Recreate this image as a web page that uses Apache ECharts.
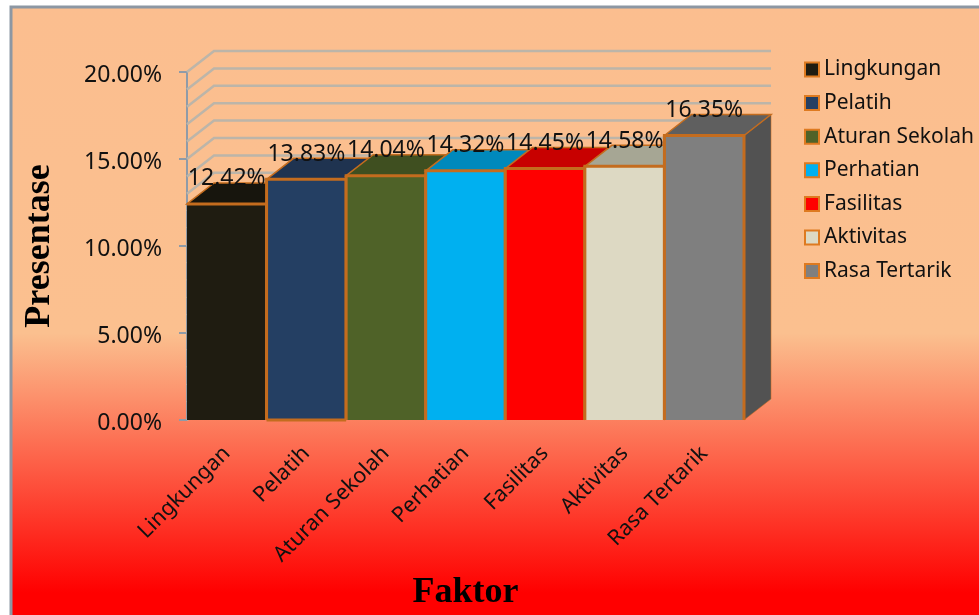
<!DOCTYPE html>
<html>
<head>
<meta charset="utf-8">
<style>html,body{margin:0;padding:0;background:#fff}#chart{width:979px;height:615px}</style>
<script src="https://cdn.jsdelivr.net/npm/echarts@6/dist/echarts.min.js"></script>
</head>
<body>
<div id="chart"></div>
<script>
// Faktor survey results, shown as a pseudo-3D column chart.
const categories = ['Lingkungan', 'Pelatih', 'Aturan Sekolah', 'Perhatian', 'Fasilitas', 'Aktivitas', 'Rasa Tertarik'];
const values = [12.42, 13.83, 14.04, 14.32, 14.45, 14.58, 16.35];
const gridValues = [0, 1, 2, 3, 4, 5, 6, 7, 8, 9, 10, 11, 12, 13, 14, 15, 16, 17, 18, 19, 20];

// Face colours per column
const frontColors = ['#1F1C11', '#243F63', '#4F6228', '#00B0F0', '#FF0000', '#DDD9C3', '#7F7F7F'];
const topColors = ['#17150D', '#1F3350', '#3F4F20', '#0089BC', '#C80000', '#A6A694', '#5F5F5F'];
const sideColors = ['#131109', '#1A2B44', '#34411A', '#00719B', '#A50000', '#8B8A7C', '#525252'];
const edgeColor = '#C46C1E';
const depthX = 27, depthY = -21;

const FONT = '"Noto Sans", "Open Sans", sans-serif';

function columnRenderer(i) {
  return function (params, api) {
    const top = api.coord([i, api.value(1)]);
    const base = api.coord([i, 0]);
    const w = api.size([1, 0])[0];
    const x0 = top[0] - w / 2, x1 = top[0] + w / 2, yT = top[1], yB = base[1];
    const edge = { stroke: edgeColor, lineWidth: 3, fill: null };
    const children = [
      { type: 'polygon', shape: { points: [[x1, yT], [x1 + depthX, yT + depthY], [x1 + depthX, yB + depthY], [x1, yB]] },
        style: { fill: sideColors[i], stroke: 'rgba(196,108,30,0.55)', lineWidth: 1 } },
      { type: 'polygon', shape: { points: [[x0, yT], [x0 + depthX, yT + depthY], [x1 + depthX, yT + depthY], [x1, yT]] },
        style: { fill: topColors[i], stroke: edgeColor, lineWidth: 1.5 } },
      { type: 'rect', shape: { x: x0, y: yT, width: w, height: yB - yT }, style: { fill: frontColors[i] } },
      { type: 'polyline', shape: { points: i === 0 ? [[x0, yT], [x1, yT], [x1, yB]] : [[x0, yB], [x0, yT], [x1, yT], [x1, yB]] }, style: edge }
    ];
    if (categories[i] === 'Pelatih') {
      children.push({ type: 'line', shape: { x1: x0, y1: yB, x2: x1, y2: yB }, style: { stroke: edgeColor, lineWidth: 3 } });
    }
    return { type: 'group', children: children };
  };
}

// Back and side wall grid lines
function gridRenderer(params, api) {
  const y = api.coord([0, api.value(0)])[1];
  const sys = params.coordSys;
  return {
    type: 'polyline',
    shape: { points: [[sys.x, y], [sys.x + depthX, y + depthY], [sys.x + sys.width + depthX, y + depthY]] },
    style: { stroke: '#BCB5A9', lineWidth: 2.5, fill: null }
  };
}

function labelRenderer(params, api) {
  const p = api.coord([api.value(0), api.value(1)]);
  return {
    type: 'text',
    x: p[0], y: p[1] - 25,
    style: {
      text: api.value(1).toFixed(2) + '%',
      align: 'center', verticalAlign: 'middle',
      font: '23px ' + FONT, fill: '#111'
    }
  };
}

const series = [
  { type: 'custom', name: 'grid', silent: true, z: 1, data: gridValues.map(v => [v]), encode: { y: 0 }, renderItem: gridRenderer }
];
categories.forEach((name, i) => {
  series.push({
    type: 'custom', name: name, z: 2 + i, silent: true,
    itemStyle: { color: frontColors[i], borderColor: '#DE7A20', borderWidth: name === 'Pelatih' ? 3 : 2 },
    data: [[i, values[i]]], encode: { x: 0, y: 1 },
    renderItem: columnRenderer(i)
  });
});
series.push({
  type: 'custom', name: 'labels', silent: true, z: 20,
  data: values.map((v, i) => [i, v]), encode: { x: 0, y: 1 }, renderItem: labelRenderer
});

const chart = echarts.init(document.getElementById('chart'), null, { renderer: 'canvas' });
chart.setOption({
  animation: false,
  backgroundColor: '#fff',
  graphic: [{
    type: 'rect', z: -10, silent: true,
    shape: { x: 11, y: 7, width: 975, height: 615 },
    style: {
      stroke: '#8C97A3', lineWidth: 3,
      fill: new echarts.graphic.LinearGradient(0, 0, 0, 1, [
        { offset: 0, color: '#FBBE8F' },
        { offset: 0.53, color: '#FBC08F' },
        { offset: 0.95, color: '#FF0000' },
        { offset: 1, color: '#FF0000' }
      ])
    }
  }],
  legend: {
    orient: 'vertical', left: 804, top: 55, padding: 0,
    data: categories, selectedMode: false,
    icon: 'rect', itemWidth: 14, itemHeight: 14, itemGap: 4.6,
    textStyle: { fontFamily: FONT, fontSize: 21, color: '#111', lineHeight: 27, padding: [2, 0, 0, 0] }
  },
  grid: { left: 187, right: 235, top: 72, bottom: 195, outerBoundsMode: 'none' },
  xAxis: {
    type: 'category', data: categories,
    axisTick: { show: false },
    axisLine: { show: false },
    axisLabel: { rotate: 45, interval: 0, margin: 30, fontFamily: FONT, fontSize: 21.5, color: '#111' },
    name: 'Faktor', nameLocation: 'middle', nameGap: 155,
    nameTextStyle: { fontFamily: '"Liberation Serif", serif', fontWeight: 'bold', fontSize: 36, color: '#000' }
  },
  yAxis: {
    type: 'value', min: 0, max: 20, interval: 5,
    splitLine: { show: false },
    axisLine: { show: true, lineStyle: { color: '#8F9BA8', width: 2 } },
    axisTick: { show: true, length: 8, lineStyle: { color: '#8F9BA8', width: 2 } },
    axisLabel: { margin: 25, fontFamily: FONT, fontSize: 23, color: '#111', verticalAlign: 'top', lineHeight: 6, formatter: v => v.toFixed(2) + '%' },
    name: 'Presentase', nameLocation: 'middle', nameGap: 129, nameRotate: 90,
    nameTextStyle: { fontFamily: '"Liberation Serif", serif', fontWeight: 'bold', fontSize: 36, color: '#000' }
  },
  series: series
});
</script>
</body>
</html>
